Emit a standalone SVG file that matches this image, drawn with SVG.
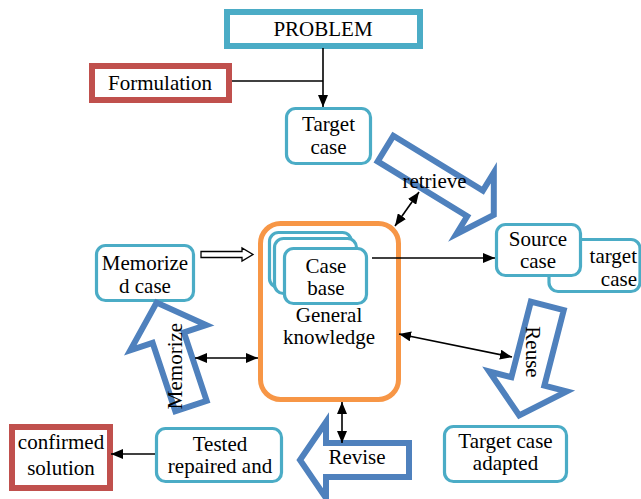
<svg xmlns="http://www.w3.org/2000/svg" width="641" height="499" viewBox="0 0 641 499">
<style>
text{font-family:"Liberation Serif","Times New Roman",serif;font-size:21px;fill:#000;text-anchor:middle}
.cy{fill:#fff;stroke:#4BACC6;stroke-width:3.2}
.rd{fill:#fff;stroke:#C0504D;stroke-width:6}
.bl{fill:#fff;stroke:#4F81BD;stroke-width:6;stroke-linejoin:miter;stroke-miterlimit:10}
.or{fill:#fff;stroke:#F79646;stroke-width:5}
.ln{fill:none;stroke:#000;stroke-width:1.6}
</style>
<defs>
<marker id="ah" viewBox="0 0 12 10" refX="12" refY="5" markerWidth="12" markerHeight="10" markerUnits="userSpaceOnUse" orient="auto-start-reverse">
<path d="M0,0 L12,5 L0,10 Z" fill="#000"/>
</marker>
</defs>
<rect width="641" height="499" fill="#fff"/>

<g id="problem"><rect x="227" y="12" width="193" height="34" fill="#fff" stroke="#4BACC6" stroke-width="6"/><text x="323" y="36">PROBLEM</text></g>
<g id="formulation"><rect class="rd" x="92" y="66" width="137" height="34"/><text x="160" y="90">Formulation</text></g>
<g id="target-case"><rect class="cy" x="286.5" y="108.5" width="84" height="55" rx="9"/><text x="328.5" y="131">Target</text><text x="328.5" y="154">case</text></g>

<g id="retrieve-arrow"><path class="bl" transform="translate(385.5,148.6) rotate(31.5)" d="M0,-15 H105 V-36 L127,0 L105,36 V15 H0 Z"/><text x="434.5" y="188">retrieve</text></g>

<g id="target-case-2"><rect class="cy" x="549" y="239.5" width="91" height="52" rx="9"/><text x="637" y="263" style="text-anchor:end">target</text><text x="637" y="286" style="text-anchor:end">case</text></g>
<g id="source-case"><rect class="cy" x="496.5" y="224.5" width="84" height="51" rx="9"/><text x="538" y="246">Source</text><text x="538" y="268">case</text></g>

<g id="knowledge"><rect class="or" x="260.5" y="223.5" width="138" height="176" rx="20"/>
<rect class="cy" x="269.5" y="232.5" width="82" height="55" rx="9"/>
<rect class="cy" x="274.5" y="238.5" width="82" height="55" rx="9"/>
<rect class="cy" x="284.5" y="248.5" width="82" height="55" rx="9"/>
<text x="326" y="273">Case</text><text x="326" y="295">base</text>
<text x="329" y="322">General</text><text x="329" y="344">knowledge</text></g>

<g id="memorized-case"><rect class="cy" x="96.5" y="245.5" width="97" height="55" rx="9"/><text x="145" y="270">Memorize</text><text x="145" y="293">d case</text></g>

<g id="memorize-arrow"><path class="bl" transform="translate(191,406) rotate(-108.4)" d="M0,-16.5 H72 V-40 L109,0 L72,40 V16.5 H0 Z"/><text transform="translate(181.5,366) rotate(-90)">Memorize</text></g>

<g id="reuse-arrow"><path class="bl" transform="translate(547.3,305.9) rotate(104.4)" d="M0,-17 H78 V-40 L113,0 L78,40 V17 H0 Z"/><text transform="translate(526,352) rotate(90)">Reuse</text></g>

<g id="revise-arrow"><path class="bl" d="M409,443 H326 V422 L300,460 L326,498 V477 H409 Z"/><text x="357" y="464">Revise</text></g>

<g id="target-case-adapted"><rect class="cy" x="444.5" y="426.5" width="122" height="55" rx="9"/><text x="505.5" y="448">Target case</text><text x="505.5" y="470">adapted</text></g>
<g id="tested"><rect class="cy" x="156.5" y="428.5" width="125" height="53" rx="9"/><text x="220" y="451">Tested</text><text x="220" y="473">repaired and</text></g>
<g id="confirmed"><rect class="rd" x="12" y="427" width="98" height="61"/><text x="61" y="449">confirmed</text><text x="61" y="475">solution</text></g>

<g id="connectors">
<path class="ln" d="M323,48 V107" marker-end="url(#ah)"/>
<path class="ln" d="M232,81 H323"/>
<path class="ln" d="M372,258 H495" marker-end="url(#ah)"/>
<path class="ln" d="M395,226 L419,192" marker-start="url(#ah)" marker-end="url(#ah)"/>
<path class="ln" d="M399,334 L512,357" marker-start="url(#ah)" marker-end="url(#ah)"/>
<path class="ln" d="M195,358 H258" marker-start="url(#ah)" marker-end="url(#ah)"/>
<path class="ln" d="M342,402 V443" marker-start="url(#ah)" marker-end="url(#ah)"/>
<path class="ln" d="M155,454 H111" marker-end="url(#ah)"/>
<path d="M201,251.5 H242 V248 L253,254.5 L242,261 V257.5 H201 Z" fill="#fff" stroke="#000" stroke-width="1.3"/>
</g>
</svg>
